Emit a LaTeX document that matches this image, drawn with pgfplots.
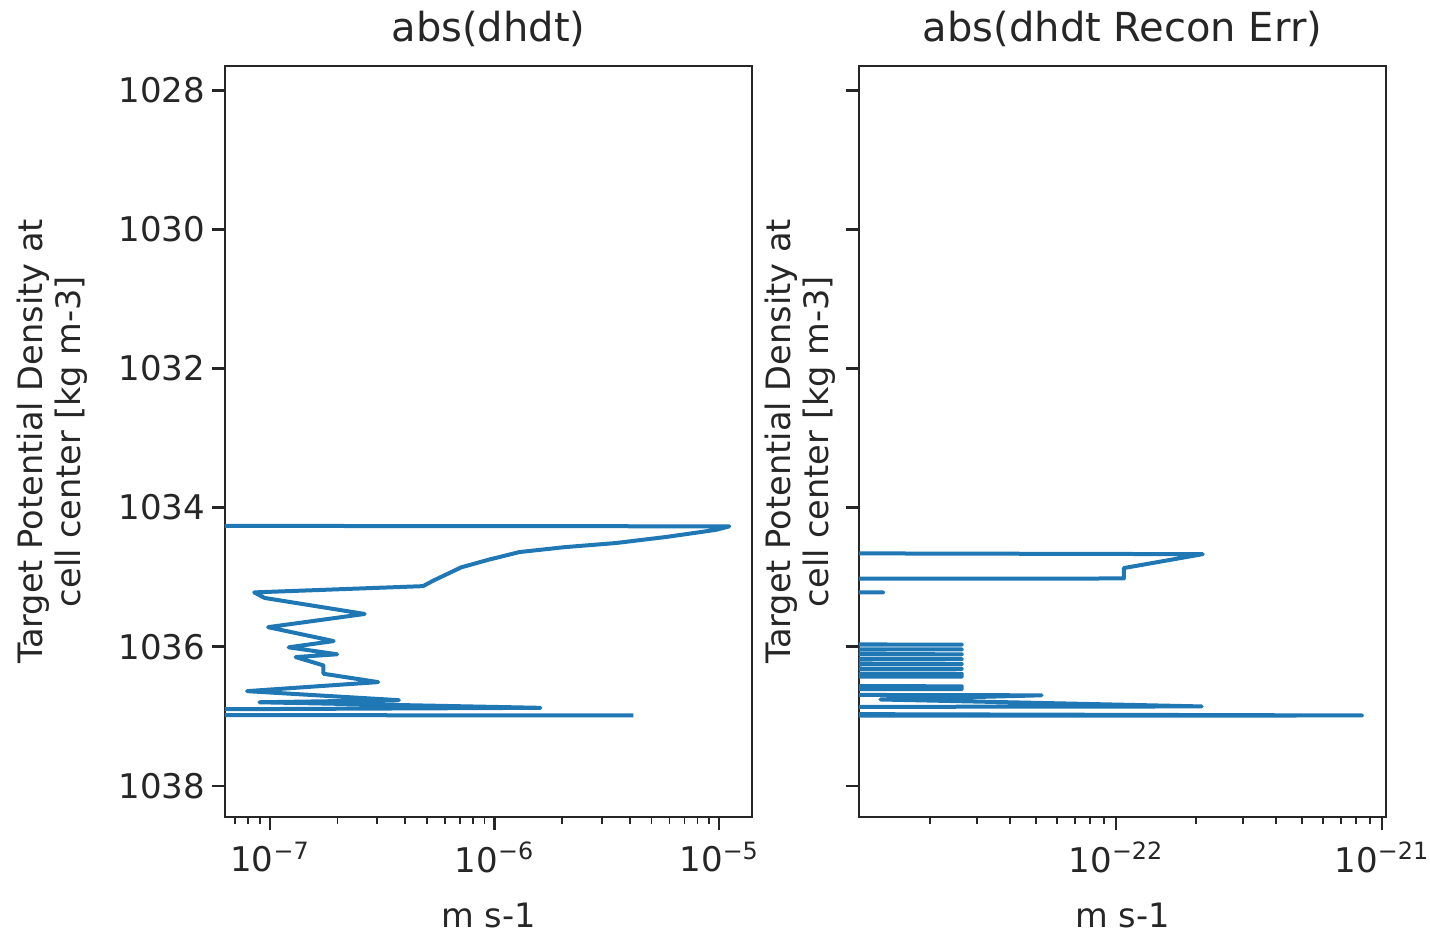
\documentclass[border=0pt]{standalone}
\usepackage{fontspec}
\setmainfont{DejaVu Sans}
\usepackage{pgfplots}
\pgfplotsset{compat=1.18}
\usepackage{pgfplotstable}

\definecolor{mplblue}{HTML}{1F77B4}
\definecolor{spine}{HTML}{262626}

% abs(dhdt) along target density
\pgfplotstableread{
x y
1e-12 1034.25
1.11e-5 1034.27
9.7e-6 1034.32
5.9e-6 1034.42
3.47e-6 1034.51
2.04e-6 1034.57
1.29e-6 1034.64
9.4e-7 1034.75
7.1e-7 1034.86
5.34e-7 1035.05
4.8e-7 1035.13
8.5e-8 1035.22
9.46e-8 1035.30
2.64e-7 1035.53
9.8e-8 1035.72
1.92e-7 1035.92
1.21e-7 1036.01
1.99e-7 1036.11
1.30e-7 1036.15
1.73e-7 1036.27
1.73e-7 1036.39
3.03e-7 1036.51
7.9e-8 1036.64
3.75e-7 1036.77
8.97e-8 1036.80
1.6e-6 1036.88
1e-12 1036.97
4.15e-6 1036.99
}\dhdt

% abs(dhdt recon err)
\pgfplotstableread{
x y
1e-30 1034.60
2.12e-22 1034.67
1.07e-22 1034.87
1.07e-22 1035.02
1e-30 1035.03
1e-30 1035.20
1.33e-23 1035.22
1e-30 1035.25
1e-30 1035.95
2.63e-23 1035.97
1e-30 1036.00
2.63e-23 1036.04
1e-30 1036.07
2.63e-23 1036.11
1e-30 1036.14
2.63e-23 1036.18
1e-30 1036.21
2.63e-23 1036.25
1e-30 1036.28
2.63e-23 1036.32
1e-30 1036.35
2.63e-23 1036.39
2.63e-23 1036.43
1e-30 1036.45
1e-30 1036.55
2.63e-23 1036.57
2.63e-23 1036.61
1e-30 1036.64
5.25e-23 1036.70
1.3e-23 1036.76
2.1e-22 1036.86
1e-30 1036.90
8.4e-22 1036.99
1e-30 1037.00
}\reconerr

\pgfplotsset{
  panel/.style={
    scale only axis,
    width=263.5pt, height=375.5pt,
    ymin=1027.65, ymax=1038.45,
    ytick={1028,1030,1032,1034,1036,1038},
    tick pos=left,
    tick align=outside,
    major tick length=6.5pt,
    minor tick length=3.5pt,
    axis line style={spine, line width=1.3pt},
    every tick/.style={spine, line width=1.2pt},
    every minor tick/.append style={line width=0.8pt},
    tick label style={font=\fontsize{17}{20}\selectfont, text=spine},
    xticklabel style={yshift=-2.5pt},
    label style={font=\fontsize{16.8}{19}\selectfont, text=spine},
    title style={font=\fontsize{20}{24}\selectfont, text=spine, at={(axis description cs:0.5,1)}, anchor=center, yshift=12.5pt},
    xlabel={m s-1},
    xlabel style={at={(axis description cs:0.5,0)}, anchor=center, yshift=-49pt},
    ylabel={Target Potential Density at\\cell center [kg m-3]},
    ylabel style={align=center, at={(axis description cs:0,0.5)}, anchor=center},
  },
}

\begin{document}
\begin{tikzpicture}
\path[use as bounding box] (-112.5pt,-59.5pt) rectangle (602.5pt,408.5pt);

\begin{axis}[xmode=log, y dir=reverse, panel,
  at={(0pt,0pt)}, anchor=south west,
  xmin=6.3e-8, xmax=1.4e-5,
  xtick={1e-7,1e-6,1e-5},
  xticklabels={10\textsuperscript{−7},10\textsuperscript{−6},10\textsuperscript{−5}},
  minor xtick={7e-8,8e-8,9e-8,2e-7,3e-7,4e-7,5e-7,6e-7,7e-7,8e-7,9e-7,2e-6,3e-6,4e-6,5e-6,6e-6,7e-6,8e-6,9e-6},
  yticklabels={1028,1030,1032,1034,1036,1038},
  ylabel style={yshift=86.5pt},
  title={abs(dhdt)},
]
\addplot[mplblue, line width=2pt, line join=round] table[x=x, y=y] {\dhdt};
\end{axis}

\begin{axis}[xmode=log, y dir=reverse, panel,
  at={(317pt,0pt)}, anchor=south west,
  xmin=1.08e-23, xmax=1.035e-21,
  xtick={1e-22,1e-21},
  xticklabels={10\textsuperscript{−22},10\textsuperscript{−21}},
  minor xtick={2e-23,3e-23,4e-23,5e-23,6e-23,7e-23,8e-23,9e-23,2e-22,3e-22,4e-22,5e-22,6e-22,7e-22,8e-22,9e-22},
  yticklabels={},
  ylabel style={yshift=29.5pt},
  title={abs(dhdt Recon Err)},
]
\addplot[mplblue, line width=2pt, line join=round] table[x=x, y=y] {\reconerr};
\end{axis}
\end{tikzpicture}
\end{document}
